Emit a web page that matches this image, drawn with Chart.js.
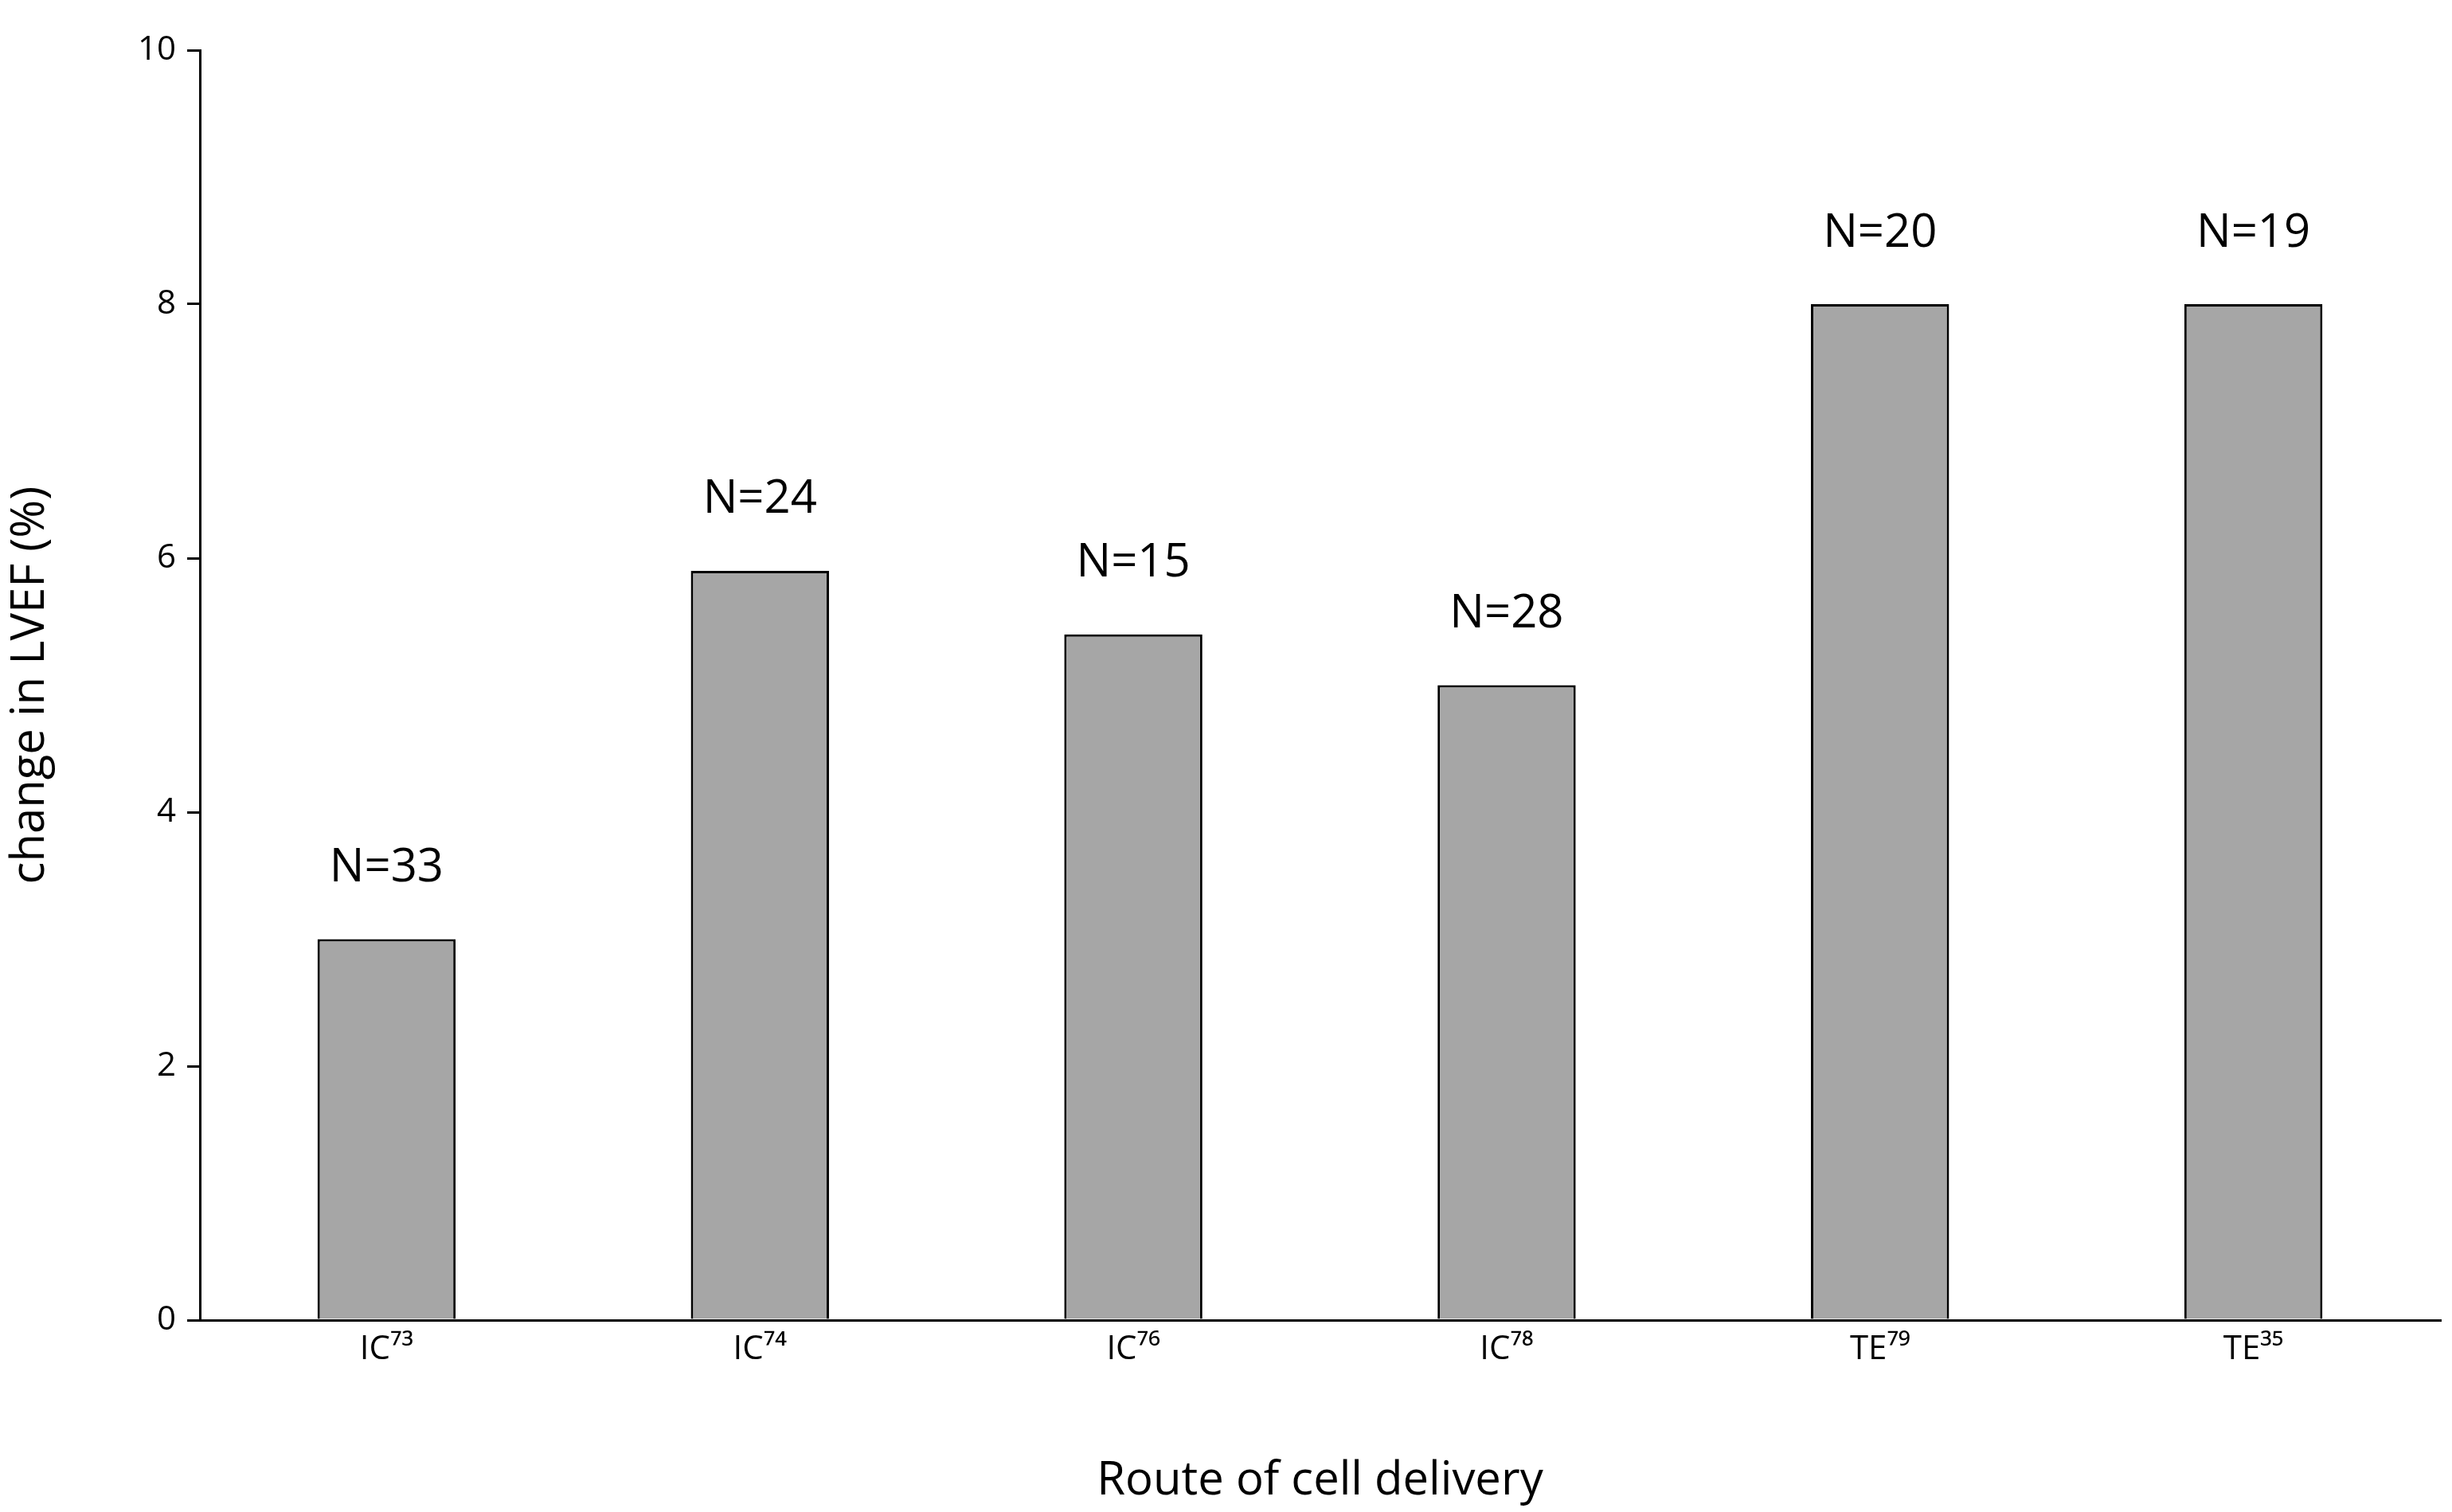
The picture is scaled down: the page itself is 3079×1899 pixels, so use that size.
<!DOCTYPE html>
<html><head><meta charset="utf-8">
<script src="https://cdn.jsdelivr.net/npm/chart.js@4"></script>
<style>html,body{margin:0;padding:0;background:#fff}</style>
</head><body>
<canvas id="c" width="3079" height="1899"></canvas>
<script>
const categories = ['IC⁷³','IC⁷⁴','IC⁷⁶','IC⁷⁸','TE⁷⁹','TE³⁵'];
const values = [3, 5.9, 5.4, 5.0, 8, 8];
const nLabels = ['N=33','N=24','N=15','N=28','N=20','N=19'];
const yTicks = [0,2,4,6,8,10];
const FONT = '"Open Sans", "Liberation Sans", sans-serif';

const nPlugin = {
  id: 'nlabels',
  afterDatasetsDraw(chart) {
    const ctx = chart.ctx;
    const meta = chart.getDatasetMeta(0);
    ctx.save();
    ctx.fillStyle = '#000';
    ctx.font = '58px ' + FONT;
    ctx.textAlign = 'center';
    ctx.textBaseline = 'bottom';
    meta.data.forEach((bar, i) => {
      ctx.fillText(nLabels[i], bar.x, bar.y - 60);
    });
    ctx.restore();
  }
};

new Chart(document.getElementById('c'), {
  type: 'bar',
  data: { labels: categories, datasets: [{
    data: values, backgroundColor: '#a6a6a6', borderColor: '#000', borderWidth: 3,
    categoryPercentage: 0.74, barPercentage: 0.5
  }]},
  options: {
    responsive: false, animation: false, devicePixelRatio: 1,
    layout: { padding: { left: 0, right: 15, top: 63, bottom: 0 } },
    plugins: { legend: { display: false }, tooltip: { enabled: false } },
    scales: {
      x: {
        grid: { display: true, drawOnChartArea: false, drawTicks: false, color: '#000', lineWidth: 3 },
        border: { color: '#000', width: 3 },
        ticks: { color: '#000', font: { family: FONT, size: 42 }, padding: 12 },
        title: { display: true, text: 'Route of cell delivery', color: '#000', font: { family: FONT, size: 58 }, padding: { top: 30 } },
        afterFit(s) { s.height = 241; }
      },
      y: {
        min: 0, max: 10,
        afterBuildTicks(s) { s.ticks = yTicks.map(v => ({ value: v })); },
        grid: { drawOnChartArea: false, drawTicks: true, tickLength: 16, color: '#000', lineWidth: 3 },
        border: { color: '#000', width: 3 },
        ticks: { color: '#000', font: { family: FONT, size: 42 }, padding: 14 },
        title: { display: true, text: 'change in LVEF (%)', color: '#000', font: { family: FONT, size: 58 }, padding: { bottom: 20 } },
        afterFit(s) { s.width = 251; }
      }
    }
  },
  plugins: [nPlugin]
});
</script>
</body></html>
